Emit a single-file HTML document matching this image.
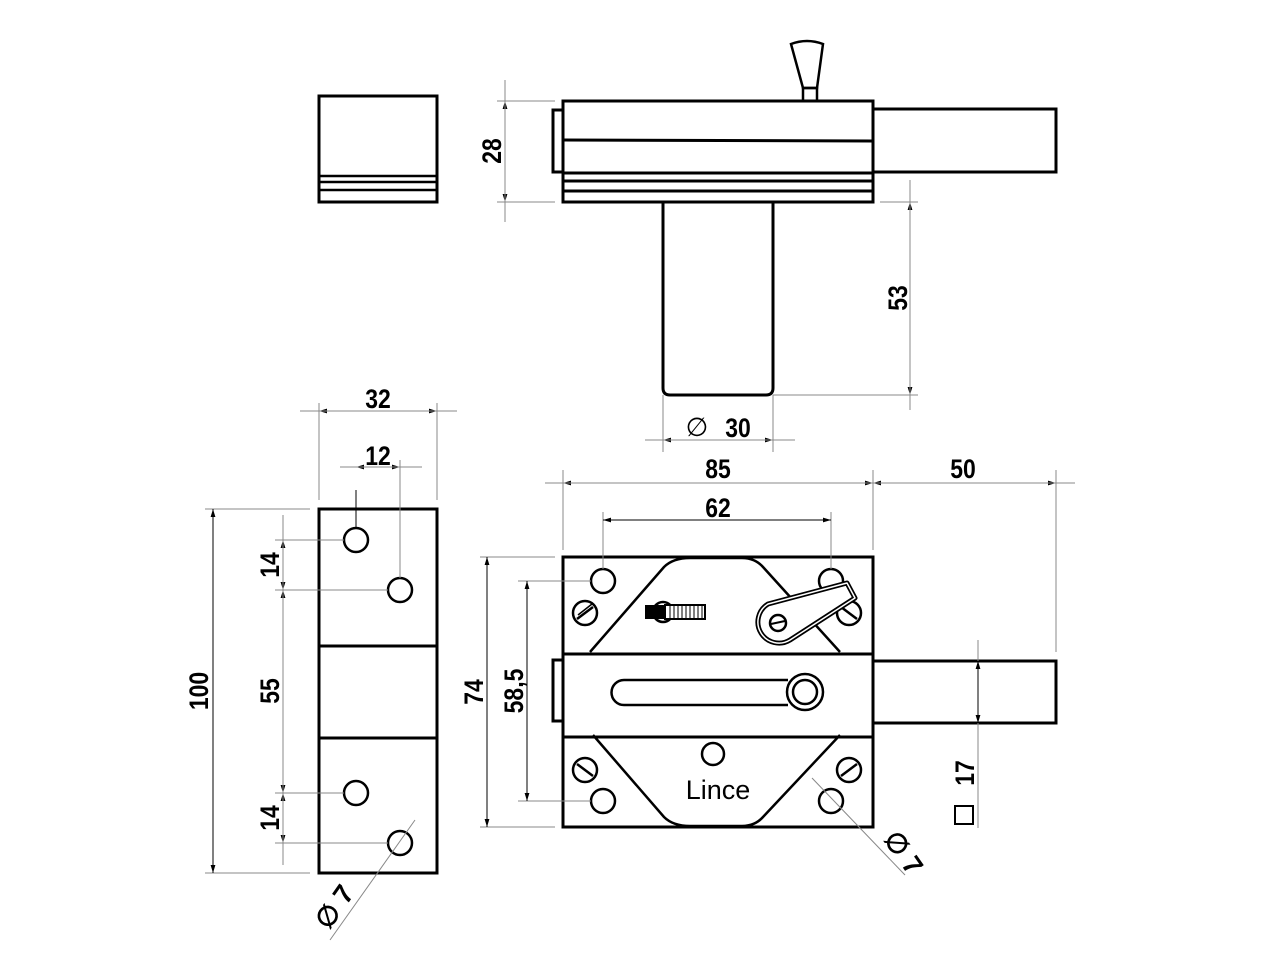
<!DOCTYPE html>
<html><head><meta charset="utf-8"><style>
html,body{margin:0;padding:0;background:#fff;}
svg{display:block;}
text{font-family:"Liberation Sans",sans-serif;font-weight:bold;fill:#000;}
</style></head><body>
<svg width="1280" height="960" viewBox="0 0 1280 960" xmlns="http://www.w3.org/2000/svg">
<defs>
<marker id="a" viewBox="0 0 10 10" refX="10" refY="5" markerWidth="8" markerHeight="8" orient="auto-start-reverse"><path d="M0,2 L10,5 L0,8 Z" fill="#000"/></marker>
</defs>
<g fill="none" stroke="#000" stroke-width="3">
<rect x="319" y="96" width="118" height="106"/>
<line x1="319" y1="176" x2="437" y2="176" stroke-width="2.5"/>
<line x1="319" y1="182" x2="437" y2="182" stroke-width="2.5"/>
<line x1="319" y1="190" x2="437" y2="190" stroke-width="2.5"/>
<rect x="553" y="110" width="10" height="62"/>
<rect x="563" y="101" width="310" height="101"/>
<line x1="563" y1="140" x2="873" y2="141"/>
<line x1="563" y1="173" x2="873" y2="173"/>
<line x1="563" y1="181" x2="873" y2="181"/>
<line x1="563" y1="191" x2="873" y2="191"/>
<rect x="873" y="109" width="183" height="63"/>
<path d="M791,44 Q807,38 823,44 L817,88 L803,88 Z" stroke-width="2.5"/>
<rect x="803" y="88" width="14" height="13" stroke-width="2.5"/>
<path d="M663,202 L663,388 Q663,395 670,395 L766,395 Q773,395 773,388 L773,202"/>
<rect x="319" y="509" width="118" height="364"/>
<line x1="319" y1="646" x2="437" y2="646"/>
<line x1="319" y1="738" x2="437" y2="738"/>
<circle cx="356" cy="540" r="12" stroke-width="2.5"/>
<circle cx="400" cy="590" r="12" stroke-width="2.5"/>
<circle cx="356" cy="793" r="12" stroke-width="2.5"/>
<circle cx="400" cy="843" r="12" stroke-width="2.5"/>
<rect x="563" y="557" width="310" height="270"/>
<rect x="553" y="660" width="10" height="61"/>
<line x1="563" y1="654" x2="873" y2="654"/>
<line x1="563" y1="737" x2="873" y2="737"/>
<rect x="873" y="661" width="183" height="62"/>
<path d="M590,652 L664,567 Q673,558 690,558 L742,558 Q755,558 763,567 L840,652" stroke-width="2.5"/>
<path d="M593,735 L664,817 Q673,826 690,826 L742,826 Q755,826 763,817 L840,735" stroke-width="2.5"/>
<circle cx="603" cy="581" r="12" stroke-width="2.5"/>
<circle cx="831" cy="581" r="12" stroke-width="2.5"/>
<circle cx="603" cy="801" r="12" stroke-width="2.5"/>
<circle cx="831" cy="801" r="12" stroke-width="2.5"/>
<circle cx="713" cy="754" r="11" stroke-width="2.5"/>
<circle cx="663" cy="612" r="10" stroke-width="2.5"/>
<g stroke-width="2.5">
<circle cx="585" cy="613" r="12"/><line x1="577" y1="619" x2="593" y2="607"/><line x1="578" y1="615" x2="592" y2="604" stroke-width="1.5"/>
<circle cx="849" cy="613" r="12"/><line x1="841" y1="607" x2="857" y2="619"/>
<circle cx="585" cy="770" r="12"/><line x1="577" y1="764" x2="593" y2="776"/>
<circle cx="849" cy="770" r="12"/><line x1="841" y1="776" x2="857" y2="764"/>
</g>
<path d="M624,680 L788,680 M624,705 L788,705 M624,680 A12.5,12.5 0 0 0 624,705" stroke-width="2.5"/>
<circle cx="805" cy="692" r="18" stroke-width="2.5"/>
<circle cx="805" cy="692" r="12" stroke-width="2.5"/>
</g>
<rect x="645" y="605" width="20" height="14" fill="#000"/>
<rect x="665" y="605" width="40" height="14" fill="#fff" stroke="#000" stroke-width="2"/>
<g stroke="#000" stroke-width="1">
<line x1="670" y1="606" x2="670" y2="618"/><line x1="674" y1="606" x2="674" y2="618"/><line x1="678" y1="606" x2="678" y2="618"/><line x1="682" y1="606" x2="682" y2="618"/><line x1="686" y1="606" x2="686" y2="618"/><line x1="690" y1="606" x2="690" y2="618"/><line x1="694" y1="606" x2="694" y2="618"/><line x1="698" y1="606" x2="698" y2="618"/><line x1="702" y1="606" x2="702" y2="618"/>
</g>
<path d="M768,604 L847,583 L855,598 L790,640 A20,20 0 0 1 768,604 Z" fill="#fff" stroke="#000" stroke-width="5" stroke-linejoin="round"/>
<path d="M768,604 L847,583 L855,598 L790,640 A20,20 0 0 1 768,604 Z" fill="none" stroke="#fff" stroke-width="1.5" stroke-linejoin="round"/>
<circle cx="778" cy="623" r="8" fill="#fff" stroke="#000" stroke-width="2.5"/>
<line x1="771" y1="624" x2="785" y2="621" stroke="#000" stroke-width="2"/>
<text x="718" y="799" font-size="27" text-anchor="middle" style="font-weight:normal">Lince</text>
<g stroke="#888" stroke-width="1" fill="none">
<line x1="497" y1="101" x2="555" y2="101"/><line x1="497" y1="202" x2="555" y2="202"/>
<line x1="880" y1="202" x2="918" y2="202"/><line x1="773" y1="395" x2="918" y2="395"/>
<line x1="663" y1="395" x2="663" y2="452"/><line x1="773" y1="395" x2="773" y2="452"/>
<line x1="319" y1="403" x2="319" y2="500"/><line x1="437" y1="403" x2="437" y2="500"/>
<line x1="400" y1="460" x2="400" y2="578"/>
<line x1="205" y1="509" x2="310" y2="509"/><line x1="205" y1="873" x2="310" y2="873"/>
<line x1="275" y1="540" x2="344" y2="540"/><line x1="275" y1="590" x2="388" y2="590"/>
<line x1="275" y1="793" x2="344" y2="793"/><line x1="275" y1="843" x2="388" y2="843"/>
<line x1="563" y1="470" x2="563" y2="550"/><line x1="873" y1="470" x2="873" y2="550"/><line x1="1056" y1="470" x2="1056" y2="652"/>
<line x1="603" y1="512" x2="603" y2="569"/><line x1="831" y1="512" x2="831" y2="569"/>
<line x1="480" y1="557" x2="555" y2="557"/><line x1="480" y1="827" x2="555" y2="827"/>
<line x1="518" y1="581" x2="591" y2="581"/><line x1="518" y1="801" x2="591" y2="801"/>
<line x1="330" y1="940" x2="415" y2="820"/>
<line x1="812" y1="778" x2="905" y2="875"/>
<line x1="978" y1="640" x2="978" y2="828"/>
</g>
<g stroke="#000" stroke-width="1" fill="none" marker-start="url(#a)" marker-end="url(#a)">
<line x1="505" y1="101" x2="505" y2="202"/>
<line x1="910" y1="202" x2="910" y2="395"/>
<line x1="663" y1="440" x2="773" y2="440"/>
<line x1="319" y1="411" x2="437" y2="411"/>
<line x1="356" y1="467" x2="400" y2="467"/>
<line x1="213" y1="509" x2="213" y2="873"/>
<line x1="283" y1="540" x2="283" y2="590"/>
<line x1="283" y1="590" x2="283" y2="793"/>
<line x1="283" y1="793" x2="283" y2="843"/>
<line x1="563" y1="483" x2="873" y2="483"/>
<line x1="873" y1="483" x2="1056" y2="483"/>
<line x1="603" y1="520" x2="831" y2="520"/>
<line x1="487" y1="557" x2="487" y2="827"/>
<line x1="527" y1="581" x2="527" y2="801"/>
<line x1="978" y1="661" x2="978" y2="723"/>
</g>
<g stroke="#888" stroke-width="1">
<line x1="505" y1="80" x2="505" y2="222"/><line x1="910" y1="180" x2="910" y2="410"/>
<line x1="645" y1="440" x2="795" y2="440"/><line x1="300" y1="411" x2="457" y2="411"/>
<line x1="340" y1="467" x2="422" y2="467"/><line x1="283" y1="515" x2="283" y2="865"/>
<line x1="545" y1="483" x2="1075" y2="483"/>
</g>
<line x1="356" y1="490" x2="356" y2="528" stroke="#000" stroke-width="1"/>
<g font-size="27">
<text transform="translate(378,408) scale(0.85,1)" text-anchor="middle">32</text>
<text transform="translate(378,465) scale(0.85,1)" text-anchor="middle">12</text>
<text transform="translate(738,437) scale(0.85,1)" text-anchor="middle">30</text>
<text transform="translate(718,478) scale(0.85,1)" text-anchor="middle">85</text>
<text transform="translate(963,478) scale(0.85,1)" text-anchor="middle">50</text>
<text transform="translate(718,517) scale(0.85,1)" text-anchor="middle">62</text>
<text transform="translate(501,151) rotate(-90) scale(0.85,1)" text-anchor="middle">28</text>
<text transform="translate(907,298) rotate(-90) scale(0.85,1)" text-anchor="middle">53</text>
<text transform="translate(208,691) rotate(-90) scale(0.85,1)" text-anchor="middle">100</text>
<text transform="translate(279,565) rotate(-90) scale(0.85,1)" text-anchor="middle">14</text>
<text transform="translate(279,691) rotate(-90) scale(0.85,1)" text-anchor="middle">55</text>
<text transform="translate(279,818) rotate(-90) scale(0.85,1)" text-anchor="middle">14</text>
<text transform="translate(483,692) rotate(-90) scale(0.85,1)" text-anchor="middle">74</text>
<text transform="translate(523,691) rotate(-90) scale(0.85,1)" text-anchor="middle">58,5</text>
<text transform="translate(974,773) rotate(-90) scale(0.85,1)" text-anchor="middle">17</text>
</g>
<text x="697" y="436" font-size="26" text-anchor="middle" style="font-weight:normal">∅</text>
<rect x="955" y="806" width="18" height="18" fill="none" stroke="#000" stroke-width="2"/>
<text transform="translate(342,912) rotate(-55)" font-size="27" text-anchor="middle">∅ 7</text>
<text transform="translate(896,858) rotate(55)" font-size="27" text-anchor="middle">∅ 7</text>
</svg>
</body></html>
